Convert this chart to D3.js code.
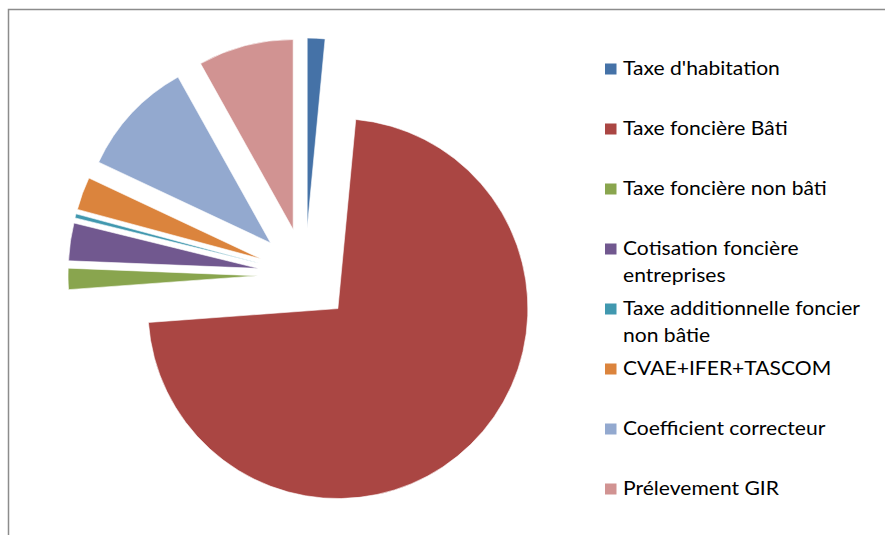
<!DOCTYPE html>
<html>
<head>
<meta charset="utf-8">
<script src="https://cdn.jsdelivr.net/npm/d3@7"></script>
<style>
  html, body { margin: 0; padding: 0; background: #fff; }
  svg { display: block; }
</style>
</head>
<body>
<svg id="chart" width="885" height="535"></svg>
<script>
const categories = [
  "Taxe d'habitation",
  "Taxe foncière Bâti",
  "Taxe foncière non bâti",
  "Cotisation foncière entreprises",
  "Taxe additionnelle foncier non bâtie",
  "CVAE+IFER+TASCOM",
  "Coefficient correcteur",
  "Prélevement GIR"
];
const legendLines = [
  ["Taxe d'habitation"],
  ["Taxe foncière Bâti"],
  ["Taxe foncière non bâti"],
  ["Cotisation foncière", "entreprises"],
  ["Taxe additionnelle foncier", "non bâtie"],
  ["CVAE+IFER+TASCOM"],
  ["Coefficient correcteur"],
  ["Prélevement GIR"]
];
const values = [1.5, 72.3, 1.8, 3.2, 0.35, 2.8, 9.9, 8.1];
const colors = ["#4572A7", "#AA4643", "#89A54E", "#71588F", "#4198AF", "#DB843D", "#93A9CF", "#D19392"];

const svg = d3.select("#chart");

// outer chart frame
svg.append("rect")
  .attr("x", 8.5).attr("y", 9.5)
  .attr("width", 900).attr("height", 560)
  .attr("fill", "none")
  .attr("stroke", "#8c8c8c")
  .attr("stroke-width", 1.5);

const cx = 305, cy = 275, radius = 190, explode = 47;

const pie = d3.pie().value(d => d).sort(null).startAngle(0).endAngle(2 * Math.PI);
const arc = d3.arc().innerRadius(0).outerRadius(radius);
const arcs = pie(values);

const g = svg.append("g").attr("transform", `translate(${cx},${cy})`);
g.selectAll("path.slice")
  .data(arcs)
  .join("path")
  .attr("class", "slice")
  .attr("d", arc)
  .attr("fill", (d, i) => colors[i])
  .attr("stroke", "#ffffff")
  .attr("stroke-width", 0.6)
  .attr("transform", d => {
    const mid = (d.startAngle + d.endAngle) / 2;
    return `translate(${explode * Math.sin(mid)},${-explode * Math.cos(mid)})`;
  });

// legend
const legend = svg.append("g").attr("class", "legend");
const fontSize = 19.5;
const targetWidth = 157; // width of first entry
const items = legend.selectAll("g.item")
  .data(categories)
  .join("g")
  .attr("class", "item")
  .attr("transform", (d, i) => `translate(0,${75 + i * 60})`);

items.append("rect")
  .attr("x", 605).attr("y", -11.5)
  .attr("width", 11.5).attr("height", 11)
  .attr("fill", (d, i) => colors[i]);

const texts = items.append("text")
  .attr("font-family", "Lato, 'Open Sans', sans-serif")
  .attr("font-size", fontSize)
  .attr("fill", "#000");

texts.selectAll("tspan")
  .data((d, i) => legendLines[i])
  .join("tspan")
  .attr("x", 0)
  .attr("dy", (d, j) => j === 0 ? 0 : 26.7)
  .text(d => d);

// horizontal fit to match reference text width
const w = texts.nodes()[0].getComputedTextLength();
const sx = targetWidth / w;
texts.attr("transform", `translate(623,0) scale(${sx},1)`);
</script>
</body>
</html>
